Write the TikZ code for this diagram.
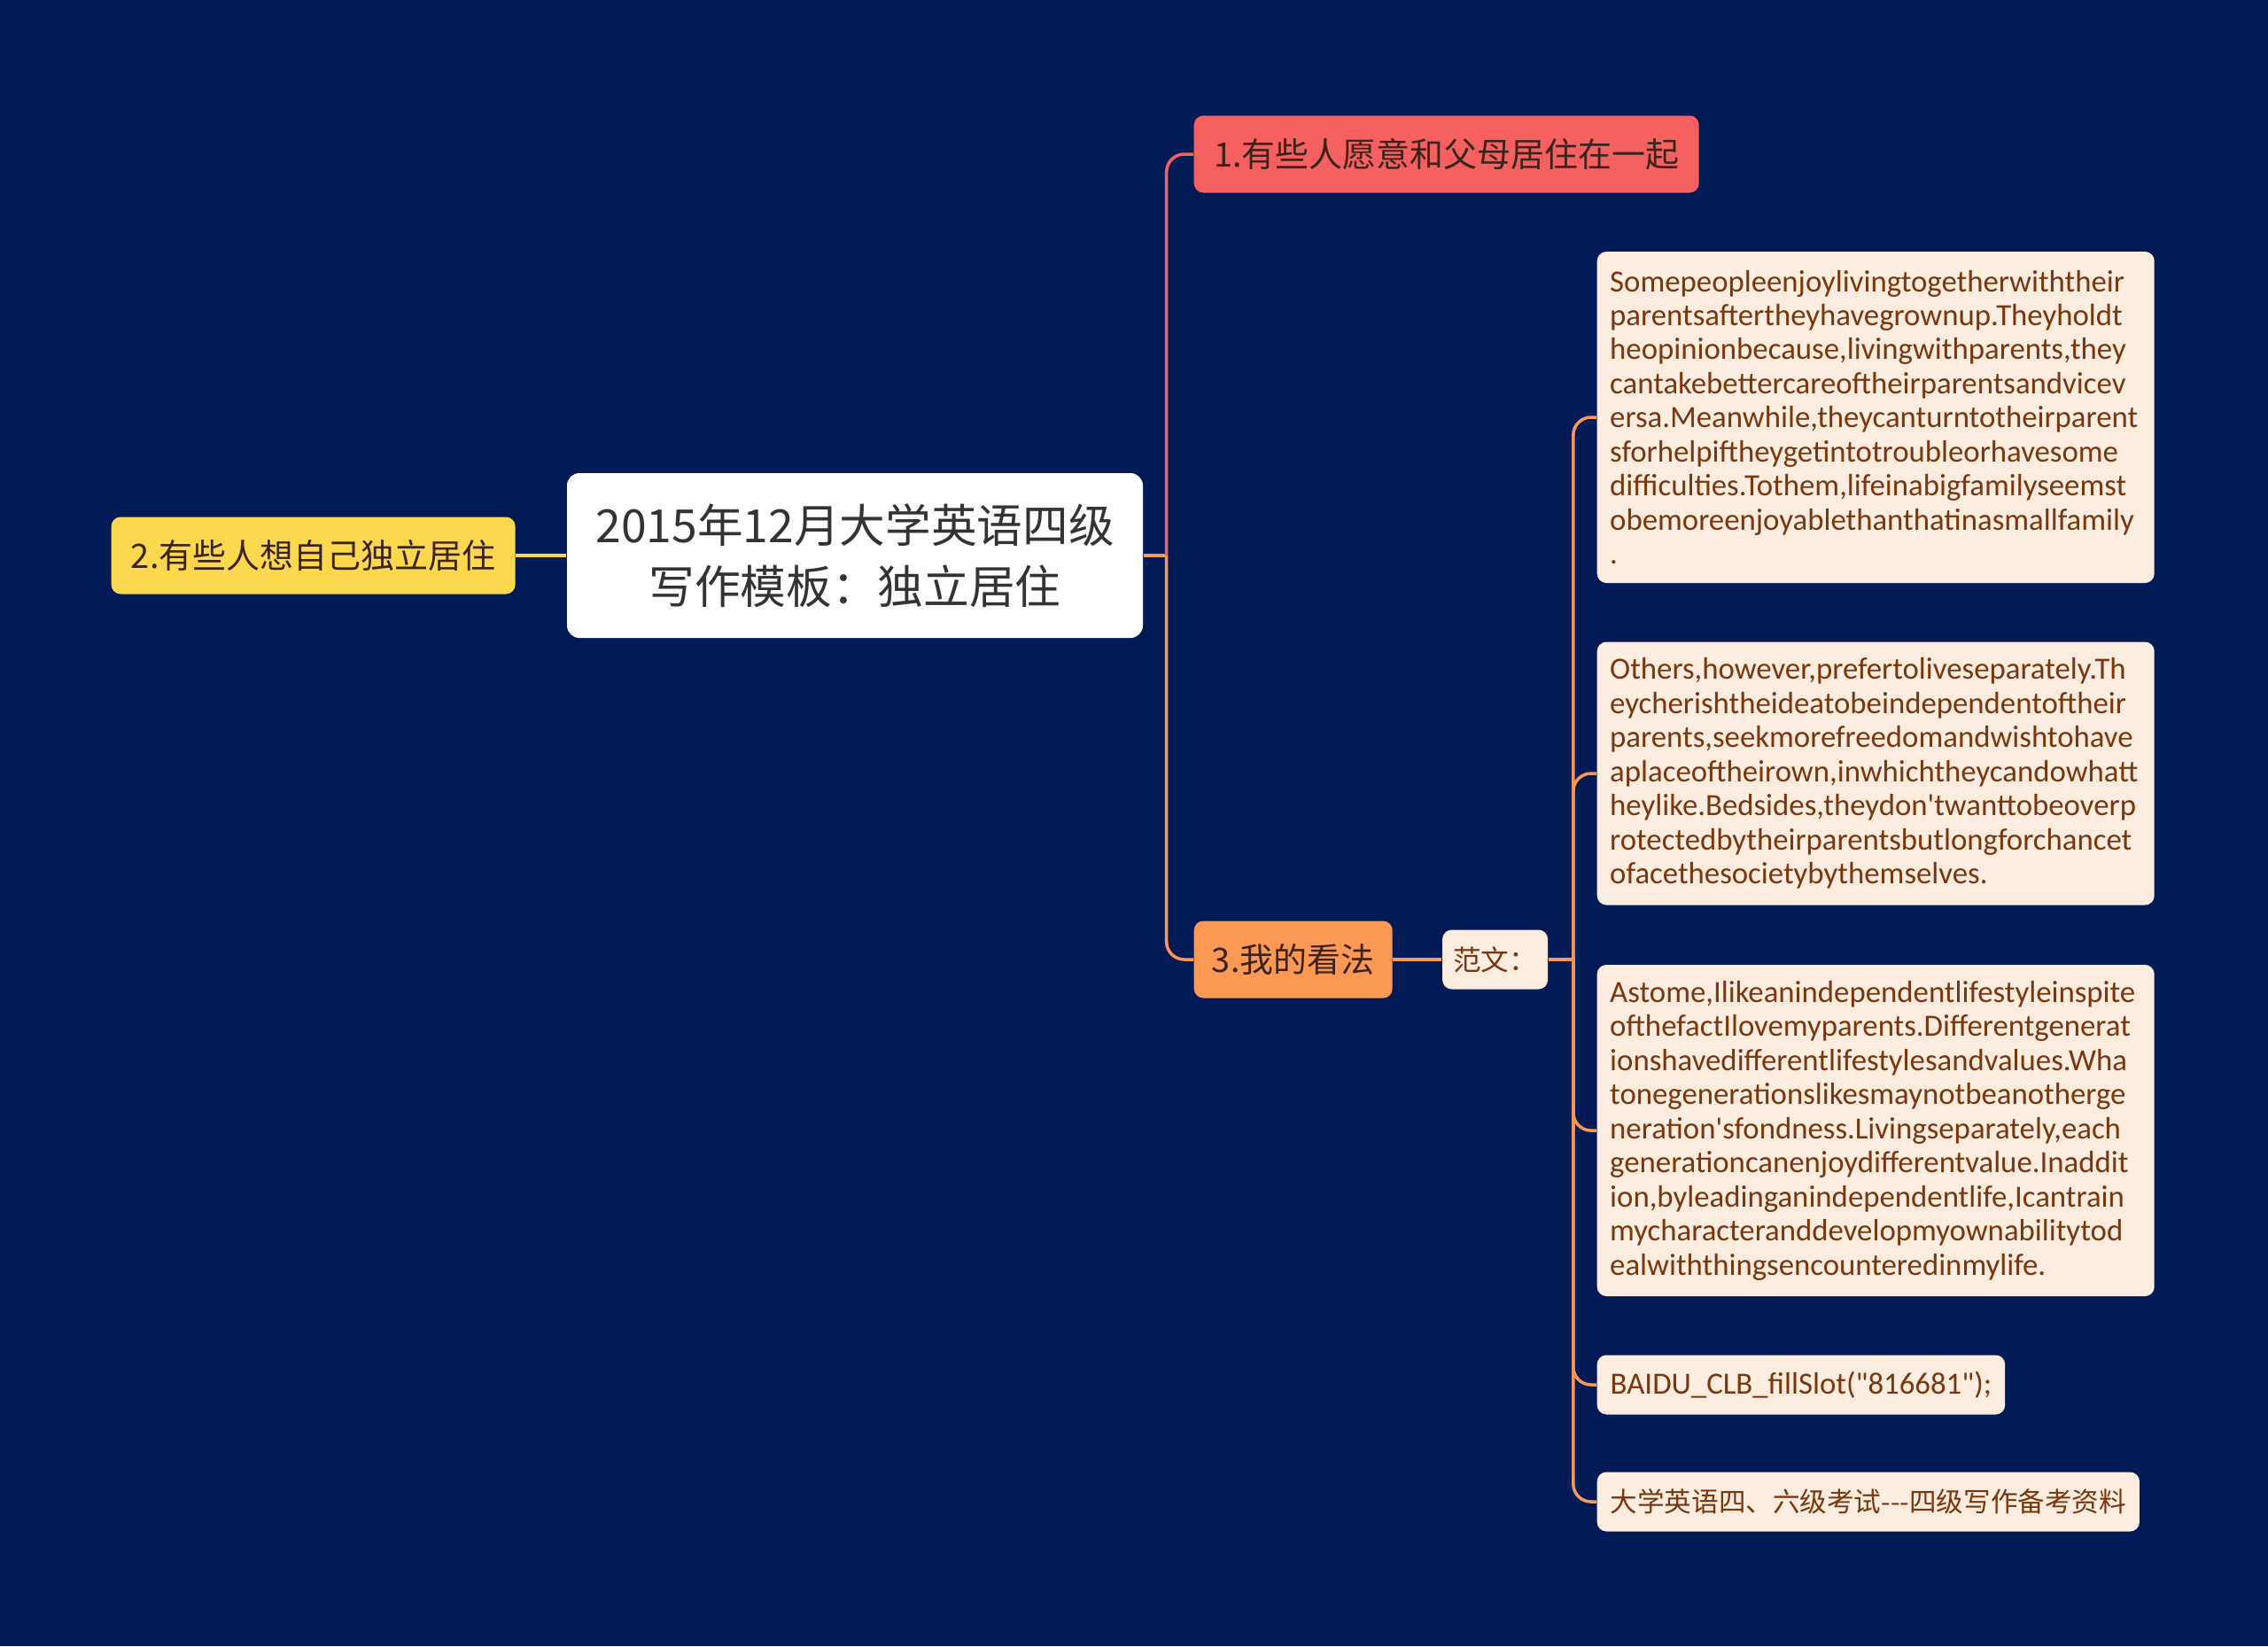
\documentclass[tikz,border=0pt]{standalone}
\usepackage{fontspec}
\setmainfont{Carlito}
\newfontfamily\cjk{Noto Sans CJK SC}
\usetikzlibrary{positioning}
\definecolor{mapnavy}{RGB}{2,27,87}
\definecolor{mapred}{RGB}{246,96,96}
\definecolor{mapyellow}{RGB}{253,215,78}
\definecolor{maporange}{RGB}{251,152,84}
\definecolor{mapcream}{RGB}{253,236,224}
\definecolor{mapbrown}{RGB}{122,54,12}
\definecolor{mapdark}{RGB}{58,36,30}
\newcommand{\essayfont}{\fontsize{9.9}{10.95}\selectfont\hyphenpenalty10000\relax}

\begin{document}
\begin{tikzpicture}[
  root/.style={rectangle, fill=white, rounded corners=4pt, minimum width=6.5cm, minimum height=1.86cm, align=center, text=black!80, font=\cjk\fontsize{14.7}{19.5}\selectfont},
  topic/.style={rectangle, rounded corners=3pt, minimum height=0.87cm, inner xsep=0.2cm, text=mapdark, font=\cjk\fontsize{10.8}{13}\selectfont},
  leaf/.style={rectangle, fill=mapcream, rounded corners=3pt, text=mapbrown, inner xsep=0.15cm, minimum height=0.67cm},
  para/.style={leaf, text width=6.0cm, inner xsep=0.145cm, align=left, anchor=west, font=\essayfont},
  link/.style={line width=1pt, rounded corners=0.2cm, maporange}
]
\useasboundingbox[fill=mapnavy] (0,0) rectangle (25.6,-18.58);

% centre and main topics
\node[root] (root) at (9.65,-6.27) {2015年12月大学英语四级\\写作模板：独立居住};
\node[topic, fill=mapyellow, minimum width=4.56cm, left=0.57cm of root] (alone) {2.有些人想自己独立居住};
\node[topic, fill=mapred, minimum width=5.70cm, anchor=west] (live) at (13.47,-1.74) {1.有些人愿意和父母居住在一起};
\node[topic, fill=maporange, minimum width=2.24cm, anchor=west] (view) at (13.47,-10.83) {3.我的看法};
\node[leaf, minimum width=1.19cm, inner xsep=0.1cm, font=\cjk\fontsize{9}{11}\selectfont, right=0.55cm of view] (sample) {范文：};

% sample essay
\node[para, minimum height=3.74cm] (p1) at (18.02,-4.71) {Somepeopleenjoylivingtogetherwiththeir\\parentsaftertheyhavegrownup.Theyholdt\\heopinionbecause,livingwithparents,they\\cantakebettercareoftheirparentsandvicev\\ersa.Meanwhile,theycanturntotheirparent\\sforhelpiftheygetintotroubleorhavesome\\difficulties.Tothem,lifeinabigfamilyseemst\\obemoreenjoyablethanthatinasmallfamily\\.};
\node[para, minimum height=2.97cm] (p2) at (18.02,-8.73) {Others,however,prefertoliveseparately.Th\\eycherishtheideatobeindependentoftheir\\parents,seekmorefreedomandwishtohave\\aplaceoftheirown,inwhichtheycandowhatt\\heylike.Bedsides,theydon\textquotesingle twanttobeoverp\\rotectedbytheirparentsbutlongforchancet\\ofacethesocietybythemselves.};
\node[para, minimum height=3.74cm] (p3) at (18.02,-12.76) {Astome,Ilikeanindependentlifestyleinspite\\ofthefactIlovemyparents.Differentgenerat\\ionshavedifferentlifestylesandvalues.Wha\\tonegenerationslikesmaynotbeanotherge\\neration\textquotesingle sfondness.Livingseparately,each\\generationcanenjoydifferentvalue.Inaddit\\ion,byleadinganindependentlife,Icantrain\\mycharacteranddevelopmyownabilitytod\\ealwiththingsencounteredinmylife.};
\node[leaf, anchor=west, minimum width=4.53cm, font=\fontsize{9.9}{12}\selectfont] (ad) at (18.02,-15.63) {BAIDU\_CLB\_fillSlot(\textquotedbl 816681\textquotedbl);};
\node[leaf, anchor=west, minimum width=6.08cm, font=\cjk\fontsize{8.7}{11}\selectfont] (src) at (18.02,-16.95) {大学英语四、六级考试-{}-{}-四级写作备考资料};

% connectors
\coordinate (hub) at ([xshift=0.26cm]root.east);
\coordinate (fork) at ([xshift=0.28cm]sample.east);
\draw[link, mapyellow] (root.west) -- (alone.east);
\draw[link] (root.east) -- (hub);
\draw[link, mapred] (hub) |- (live.west);
\draw[link] (hub) |- (view.west);
\draw[link] (view.east) -- (sample.west);
\draw[link] (sample.east) -- (fork);
\foreach \leafname in {p1,p2,p3,ad,src}
  \draw[link] (fork) |- (\leafname.west);
\end{tikzpicture}
\end{document}
